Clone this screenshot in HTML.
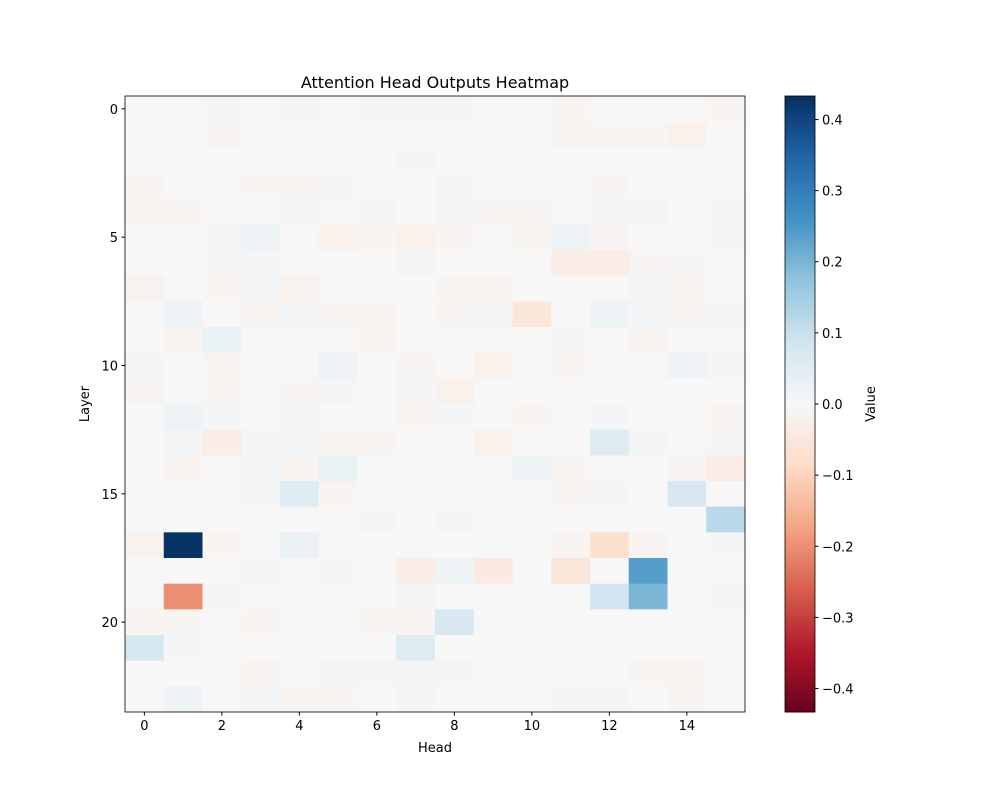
<!DOCTYPE html>
<html><head><meta charset="utf-8"><style>
body{margin:0;background:#fff;font-family:"Liberation Sans","DejaVu Sans",sans-serif}
svg text{font-family:"DejaVu Sans","Liberation Sans",sans-serif;font-size:13px;fill:#000}
</style></head><body>
<svg id="chart" width="1000" height="800" xmlns="http://www.w3.org/2000/svg"></svg>
<script>
const heads=[0,1,2,3,4,5,6,7,8,9,10,11,12,13,14,15];
const layers=[...Array(24).keys()];
const xTicks=[0,2,4,6,8,10,12,14];
const yTicks=[0,5,10,15,20];
const cbTicks=[-0.4,-0.3,-0.2,-0.1,0,0.1,0.2,0.3,0.4];
const vmin=-0.433, vmax=0.433;
const values=[
[0,0,0.01,0,0.01,0,0.01,0.01,0.01,0,0,-0.01,0,0,0,-0.01],
[0,0,-0.01,0,0,0,0,0,0,0,0,-0.01,-0.01,-0.01,-0.02,0],
[0,0,0,0,0,0,0,0.01,0,0,0,0,0,0,0,0],
[-0.01,0,0,-0.01,-0.01,0.01,0,0,0.01,0,0,0,-0.01,0,0,0],
[-0.01,-0.01,0,0,0.01,0,0.01,0,0.01,-0.01,-0.01,0,0.01,0.01,0,0.01],
[0,0,0.01,0.02,0,-0.02,-0.01,-0.02,-0.01,0,-0.01,0.02,-0.01,0,0,0.01],
[0,0,0.01,0.01,0,0,0,0.01,0,0,0,-0.03,-0.03,-0.01,0.01,0],
[-0.02,0,-0.01,0.01,-0.02,0,0,0,-0.01,-0.01,0,0,0,0.01,-0.01,0],
[0,0.02,0,-0.01,0.01,-0.01,-0.01,0,-0.01,0.01,-0.05,0,0.02,0.01,-0.01,0.01],
[0,-0.01,0.03,0,0,0,-0.01,0,0,0,0,0.01,0,-0.01,0,0],
[0.01,0,-0.01,0,0,0.02,0,-0.01,0,-0.02,0,-0.01,0,0,0.02,0.01],
[-0.01,0,-0.01,0,-0.01,0.01,0,0.01,-0.02,0,0,0,0,0,0,0],
[0,0.02,0.01,0,0.01,0,0,-0.01,0.01,0,-0.01,0,0.01,0,0,-0.01],
[0,0.01,-0.03,0.01,0.01,-0.01,-0.01,0,0,-0.02,0,0,0.06,0.01,0,0.01],
[0,-0.01,0,0.01,-0.01,0.03,0,0,0,0,0.02,-0.01,0,0,-0.01,-0.03],
[0,0,0,0.01,0.06,-0.01,0,0,0,0,0,-0.01,0.01,0,0.07,0],
[0,0,0,0,0,0,0.01,0,0.01,0,0,0,0,0,0,0.12],
[-0.02,0.43,-0.01,0,0.03,0,0,0,0,0,0,-0.01,-0.07,-0.01,0,0.01],
[0,0,0,0.01,0,0.01,0,-0.03,0.02,-0.04,0,-0.05,0,0.24,0,0],
[0,-0.2,0.01,0,0,0,0,0.01,0,0,0,0,0.08,0.2,0,0.01],
[-0.01,-0.01,0,-0.01,0,0,-0.01,-0.01,0.07,0,0,0,0,0,0,0],
[0.07,0.01,0,0,0,0,0,0.06,0,0,0,0,0,0,0,0],
[0,0,0,-0.01,0,0.01,0.01,0.01,0.01,0,0,0,0,-0.01,-0.01,0],
[0,0.02,0,0.01,-0.01,-0.01,0,0.01,0,0,0,0.01,0.01,0,-0.01,0]
];
const stops=["#67001f","#b2182b","#d6604d","#f4a582","#fddbc7","#f7f7f7","#d1e5f0","#92c5de","#4393c3","#2166ac","#053061"].map(h=>[1,3,5].map(i=>parseInt(h.substr(i,2),16)));
function cmap(v){let t=(v-vmin)/(vmax-vmin);t=Math.max(0,Math.min(1,t))*10;let i=Math.min(9,Math.floor(t)),f=t-i;
const c=stops[i].map((a,k)=>Math.round(a+(stops[i+1][k]-a)*f));return `rgb(${c})`;}
const L=125,R=745,T=96,B=712;
const cw=(R-L)/heads.length, ch=(B-T)/layers.length;
const xs=h=>L+cw*(h+0.5), ys=l=>T+ch*(l+0.5);
const cbL=785,cbW=30, cy=v=>B-(v-vmin)/(vmax-vmin)*(B-T);
const svg=document.getElementById('chart');const NS="http://www.w3.org/2000/svg";
function mk(tag,attrs,txt){const e=document.createElementNS(NS,tag);for(const k in attrs)e.setAttribute(k,attrs[k]);if(txt!==undefined)e.textContent=txt;svg.appendChild(e);return e;}
layers.forEach(l=>heads.forEach(h=>{
 const r=mk('rect',{x:xs(h)-cw/2,y:ys(l)-ch/2,width:cw+0.5,height:ch+0.5,fill:cmap(values[l][h])});
 
 
}));
let f=mk('rect',{x:L,y:T,width:R-L,height:B-T,fill:'none',stroke:'#000','stroke-width':0.8});

xTicks.forEach(t=>{mk('line',{x1:xs(t),x2:xs(t),y1:B,y2:B+3.5,stroke:'#000'});
 const e=mk('text',{x:xs(t),y:B+18,'text-anchor':'middle'},t);});
yTicks.forEach(t=>{mk('line',{x1:L-3.5,x2:L,y1:ys(t),y2:ys(t),stroke:'#000'});
 const e=mk('text',{x:L-7,y:ys(t)+5,'text-anchor':'end'},t);});
for(let i=0;i<200;i++){const v0=vmin+(vmax-vmin)*i/200,v1=vmin+(vmax-vmin)*(i+1)/200;
 const r=mk('rect',{x:cbL,y:cy(v1),width:cbW,height:cy(v0)-cy(v1)+0.5,fill:cmap((v0+v1)/2)});
 }
mk('rect',{x:cbL,y:T,width:cbW,height:B-T,fill:'none',stroke:'#000','stroke-width':0.8});
cbTicks.forEach(t=>{mk('line',{x1:cbL+cbW,x2:cbL+cbW+3.5,y1:cy(t),y2:cy(t),stroke:'#000'});
 const e=mk('text',{x:cbL+cbW+7,y:cy(t)+5},(t<0?'\u2212':'')+Math.abs(t).toFixed(1));});
let e;
e=mk('text',{x:435,y:88,'text-anchor':'middle'},'Attention Head Outputs Heatmap');e.style.fontSize='16px';
e=mk('text',{x:435,y:752,'text-anchor':'middle'},'Head');
e=mk('text',{x:0,y:0,'text-anchor':'middle',transform:'translate(89,404) rotate(-90)'},'Layer');
e=mk('text',{x:0,y:0,'text-anchor':'middle',transform:'translate(875,404) rotate(-90)'},'Value');
</script>
</body></html>
